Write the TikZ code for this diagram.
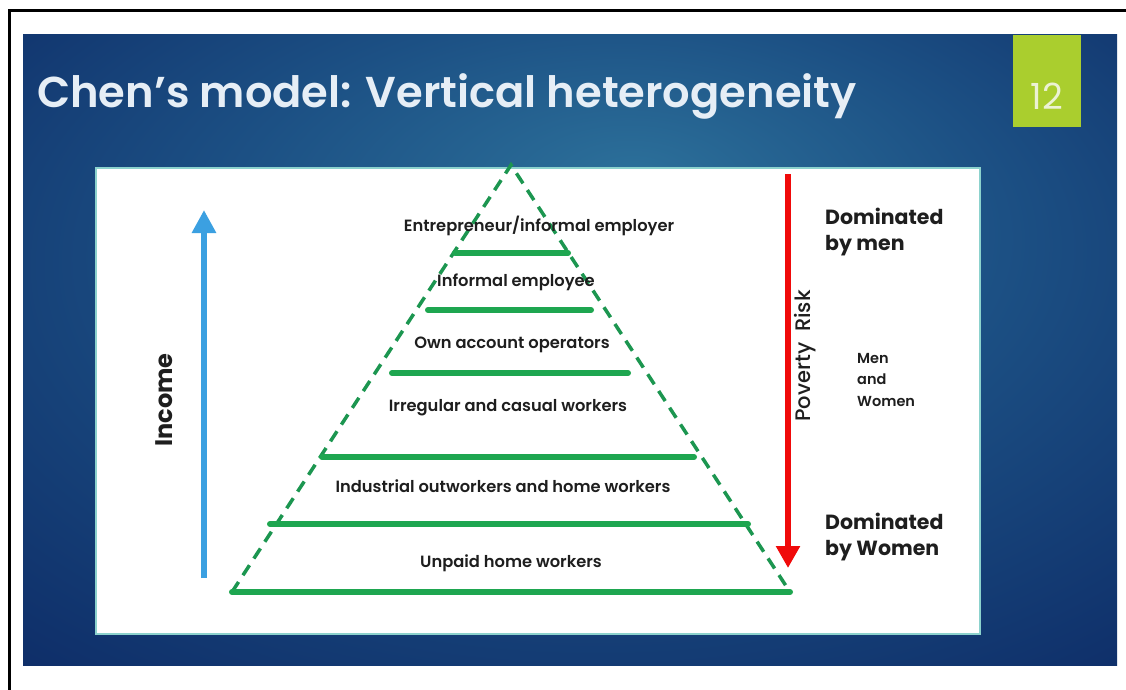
\documentclass[tikz,border=0pt]{standalone}
\usepackage{fontspec}
\setmainfont{Poppins}
\newfontfamily\popsemi{Poppins SemiBold}
\newfontfamily\popmed{Poppins Medium}
\usetikzlibrary{arrows.meta}
\definecolor{slideDark}{RGB}{12,40,100}
\definecolor{slideMid}{RGB}{28,80,132}
\definecolor{slideLight}{RGB}{44,112,154}
\definecolor{panelEdge}{RGB}{140,210,205}
\definecolor{boxGreen}{RGB}{170,206,46}
\definecolor{numColor}{RGB}{236,242,212}
\definecolor{titleColor}{RGB}{230,238,246}
\definecolor{tierGreen}{RGB}{30,166,80}
\definecolor{dashGreen}{RGB}{28,150,80}
\definecolor{incBlue}{RGB}{59,160,225}
\definecolor{riskRed}{RGB}{240,10,10}
\definecolor{darkText}{RGB}{30,30,30}
\pgfdeclareradialshading{slidebg}{\pgfpoint{3bp}{14bp}}{color(0bp)=(slideLight); color(18bp)=(slideMid); color(42bp)=(slideDark); color(50bp)=(slideDark)}
\tikzset{
  tier/.style={tierGreen, line width=6, line cap=round},
  pyredge/.style={dashGreen, line width=3.5, dash pattern=on 12 off 8},
  tierlabel/.style={darkText, font=\fontsize{16.3}{19}\selectfont\popsemi, inner sep=0},
  sidelabel/.style={darkText, font=\fontsize{20.5}{26}\selectfont\bfseries, align=left, anchor=north west, inner sep=0},
}
\begin{document}
\begin{tikzpicture}[x=1pt,y=-1pt]
\useasboundingbox (0,0) rectangle (1126,690);
\fill[white] (0,0) rectangle (1126,690);
% outer frame
\draw[black, line width=3] (9,690) -- (9,11) -- (1126,11);
% slide background
\shade[shading=slidebg] (23,35) rectangle (1117,665);
% title
\node[titleColor, anchor=base west, inner sep=0, font=\fontsize{43.2}{48}\selectfont\popsemi] (title) at (37,108) {Chen’s model: Vertical heterogeneity};
% slide number box
\fill[boxGreen] (1013,35) rectangle (1081,127);
\node[numColor, inner sep=0, font=\fontsize{36}{40}\selectfont] (num) at (1047,96) {12};
% white panel
\fill[white, draw=panelEdge, line width=1.2] (96,168) rectangle (980,634);
% pyramid
\coordinate (apex) at (511,165);
\coordinate (bl) at (232,592);
\coordinate (br) at (790,592);
\draw[pyredge] (bl) -- (apex) -- (br);
\coordinate (t1l) at (455,253); \coordinate (t1r) at (568,253);
\coordinate (t2l) at (428,310); \coordinate (t2r) at (591,310);
\coordinate (t3l) at (392,373); \coordinate (t3r) at (628,373);
\coordinate (t4l) at (322,457); \coordinate (t4r) at (694,457);
\coordinate (t5l) at (270,524); \coordinate (t5r) at (748,524);
\draw[tier] (t1l) -- (t1r);
\draw[tier] (t2l) -- (t2r);
\draw[tier] (t3l) -- (t3r);
\draw[tier] (t4l) -- (t4r);
\draw[tier] (t5l) -- (t5r);
\draw[tier] (bl) -- (br);
% tier labels
\node[tierlabel] (l1) at (539,226) {Entrepreneur/informal employer};
\node[tierlabel] (l2) at (516,282) {Informal employee};
\node[tierlabel] (l3) at (512,345) {Own account operators};
\node[tierlabel] (l4) at (508,408) {Irregular and casual workers};
\node[tierlabel] (l5) at (503,486) {Industrial outworkers and home workers};
\node[tierlabel] (l6) at (511,563) {Unpaid home workers};
% income arrow
\coordinate (incB) at (204,578);
\coordinate (incT) at (204,210);
\draw[incBlue, line width=6, -{Triangle[width=23, length=23]}] (incB) -- (incT);
\node[darkText, rotate=90, inner sep=0, font=\fontsize{24}{28}\selectfont\bfseries] (income) at (164,400) {Income};
% poverty risk arrow
\coordinate (povT) at (788,174);
\coordinate (povB) at (788,568);
\draw[riskRed, line width=6.5, -{Triangle[width=23, length=22]}] (povT) -- (povB);
\node[darkText, rotate=90, inner sep=0, font=\fontsize{21}{24}\selectfont\popmed] (pov) at (805,356) {Poverty\ \ Risk};
% side labels
\node[sidelabel] (men) at (825,208) {Dominated\\by men};
\node[darkText, align=left, anchor=north west, inner sep=0, font=\fontsize{14.5}{21.5}\selectfont\popsemi] (both) at (857,353) {Men\\and\\Women};
\node[sidelabel] (women) at (825,513) {Dominated\\by Women};
\end{tikzpicture}
\end{document}
